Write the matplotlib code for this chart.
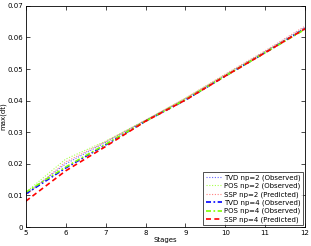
import matplotlib
matplotlib.use("Agg")
import matplotlib.pyplot as plt

stages = [5, 6, 7, 8, 9, 10, 11, 12]
tvd_np2 = [0.0105, 0.0200, 0.0268, 0.0338, 0.0405, 0.0480, 0.0555, 0.0632]
pos_np2 = [0.0110, 0.0215, 0.0272, 0.0338, 0.0408, 0.0482, 0.0555, 0.0630]
ssp_np2 = [0.0100, 0.0206, 0.0270, 0.0338, 0.0408, 0.0484, 0.0558, 0.0636]
tvd_np4 = [0.0105, 0.0187, 0.0260, 0.0335, 0.0402, 0.0478, 0.0552, 0.0628]
pos_np4 = [0.0110, 0.0190, 0.0262, 0.0335, 0.0403, 0.0478, 0.0552, 0.0626]
ssp_np4 = [0.0082, 0.0178, 0.0255, 0.0335, 0.0402, 0.0478, 0.0552, 0.0628]
labels = ["TVD np=2 (Observed)", "POS np=2 (Observed)", "SSP np=2 (Predicted)",
          "TVD np=4 (Observed)", "POS np=4 (Observed)", "SSP np=4 (Predicted)"]

blue = "#0000ff"
green = "#80ff00"
red = "#ff0000"
fs = 5

fig = plt.figure(figsize=(3.11, 2.46), dpi=100)
ax = fig.add_axes([0.083, 0.077, 0.898, 0.899])
ax.plot(stages, tvd_np2, linestyle=(0, (1, 1.5)), color=blue, lw=0.8, alpha=0.6, label=labels[0])
ax.plot(stages, pos_np2, linestyle=(0, (1, 1.5)), color=green, lw=0.8, alpha=0.7, label=labels[1])
ax.plot(stages, ssp_np2, linestyle=(0, (1, 1.5)), color=red, lw=0.8, alpha=0.5, label=labels[2])
ax.plot(stages, tvd_np4, linestyle=(0, (3, 1.5, 1, 1.5)), color=blue, lw=1.2, label=labels[3])
ax.plot(stages, pos_np4, linestyle=(0, (3, 1.5, 1, 1.5)), color=green, lw=1.2, label=labels[4])
ax.plot(stages, ssp_np4, linestyle=(0, (3, 2)), color=red, lw=1.2, label=labels[5])

ax.set_xlim(5, 12)
ax.set_ylim(0, 0.07)
ax.set_xticks(stages)
ax.set_yticks([0, 0.01, 0.02, 0.03, 0.04, 0.05, 0.06, 0.07])
ax.set_yticklabels(["0", "0.01", "0.02", "0.03", "0.04", "0.05", "0.06", "0.07"])
ax.tick_params(direction="in", top=True, right=True, labelsize=fs, length=3, width=0.5, pad=2)
for s in ax.spines.values():
    s.set_linewidth(0.6)
ax.set_xlabel("Stages", fontsize=fs, labelpad=1)
ax.set_ylabel("max(dt)", fontsize=fs, labelpad=1)
leg = ax.legend(loc="lower right", fontsize=fs, frameon=True, fancybox=False,
                edgecolor="black", borderpad=0.3, labelspacing=0.28, handlelength=2.3,
                handletextpad=0.4, borderaxespad=0.3)
leg.get_frame().set_linewidth(0.6)
fig.savefig("out.png", dpi=100)
